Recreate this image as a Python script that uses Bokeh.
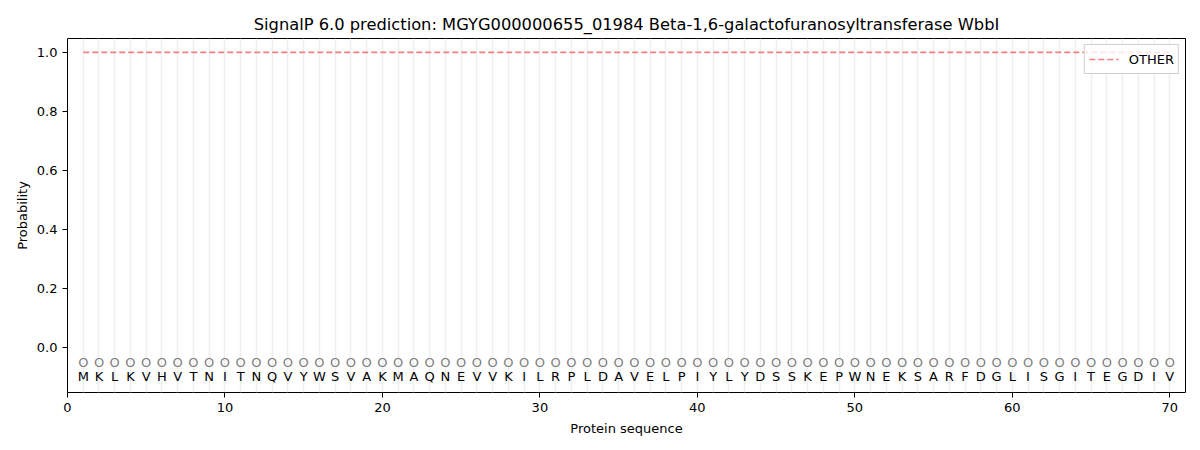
from bokeh.plotting import figure
from bokeh.models import Range1d, FixedTicker, PrintfTickFormatter, ColumnDataSource, Legend, LegendItem
from bokeh.core.properties import value
from bokeh.embed import file_html
from bokeh.resources import INLINE

sequence = list("MKLKVHVTNITNQVYWSVAKMAQNEVVKILRPLDAVELPIYLYDSSKEPWNEKSARFDGLISGITEGDIV")
positions = list(range(1, len(sequence) + 1))
other_prob = [1.0] * len(sequence)
pred_labels = ["O"] * len(sequence)
marker_y = [-0.05] * len(sequence)
letter_y = [-0.1] * len(sequence)

FONT = "DejaVu Sans"

p = figure(width=1192, height=442, output_backend="svg", toolbar_location=None,
           x_range=Range1d(0, 71), y_range=Range1d(-0.153, 1.047),
           min_border_left=67, min_border_right=7, min_border_top=38, min_border_bottom=50)

p.title.text = "SignalP 6.0 prediction: MGYG000000655_01984 Beta-1,6-galactofuranosyltransferase WbbI"
p.title.align = "center"
p.title.text_font = FONT
p.title.text_font_size = "16.3px"
p.title.text_font_style = "normal"
p.title.text_color = "black"
p.title.offset = 0

p.outline_line_color = "black"
p.outline_line_width = 1
p.outline_line_alpha = 1

p.xgrid.ticker = FixedTicker(ticks=positions)
p.xgrid.grid_line_color = "#efefef"
p.xgrid.grid_line_width = 1.5
p.ygrid.grid_line_color = None

p.xaxis.ticker = FixedTicker(ticks=[0, 10, 20, 30, 40, 50, 60, 70])
p.yaxis.ticker = FixedTicker(ticks=[0.0, 0.2, 0.4, 0.6, 0.8, 1.0])
p.yaxis.formatter = PrintfTickFormatter(format="%.1f")
for ax in (p.xaxis[0], p.yaxis[0]):
    ax.major_label_text_font = FONT
    ax.major_label_text_font_size = "13px"
    ax.axis_label_text_font = FONT
    ax.axis_label_text_font_size = "13px"
    ax.axis_label_text_font_style = "normal"
    ax.axis_label_text_color = "black"
    ax.minor_tick_line_color = None
    ax.major_tick_out = 5
    ax.major_tick_in = 0
    ax.major_tick_line_color = "black"
    ax.axis_line_color = None
    ax.major_label_text_color = "black"
p.xaxis.axis_label = "Protein sequence"
p.yaxis.axis_label = "Probability"
p.xaxis.axis_label_standoff = 6
p.yaxis.axis_label_standoff = 4

src = ColumnDataSource(dict(x=positions, p=other_prob, o=pred_labels, my=marker_y,
                            aa=sequence, ly=letter_y))

line = p.line("x", "p", source=src, line_color="#f08080", line_width=1.6, line_dash="6 3")

p.text("x", "my", text="o", source=src, text_font=value(FONT), text_font_size="13px",
       text_color="#808080", text_align="center", text_baseline="middle")
p.text("x", "ly", text="aa", source=src, text_font=value(FONT), text_font_size="13px",
       text_color="black", text_align="center", text_baseline="middle")

legend = Legend(items=[LegendItem(label="OTHER", renderers=[line])], location="top_right",
                label_text_font=FONT, label_text_font_size="13px", label_text_color="black",
                border_line_color="#d0d0d0", border_line_alpha=1, background_fill_alpha=0.8,
                margin=6, padding=4, spacing=0, glyph_width=30, label_standoff=10)
p.add_layout(legend)

open("out.html", "w").write(file_html(p, INLINE))
